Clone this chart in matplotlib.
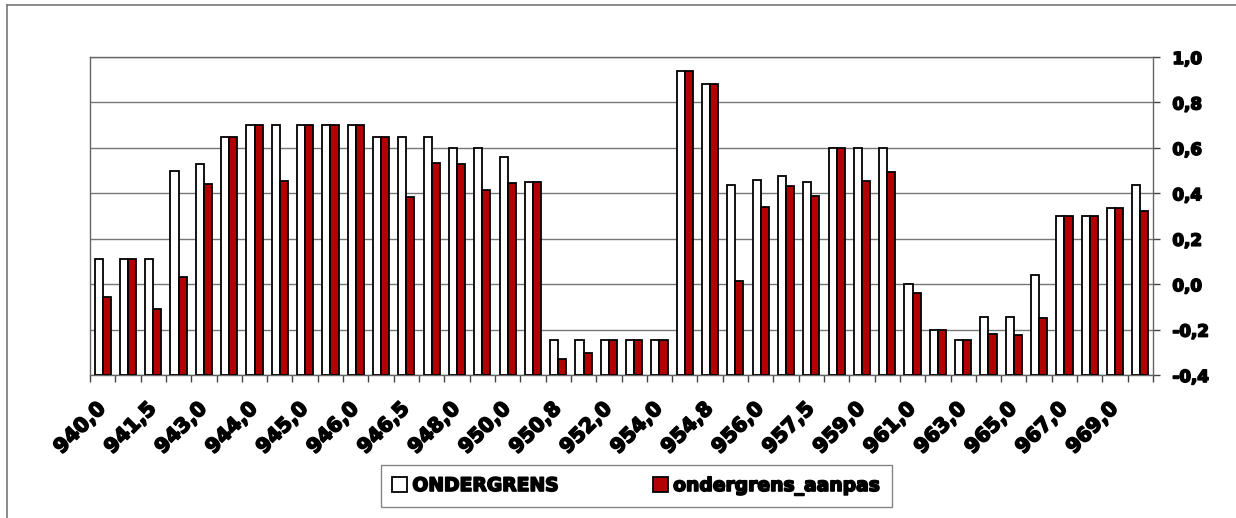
import matplotlib
matplotlib.use('Agg')
import matplotlib.pyplot as plt
import matplotlib.patheffects as pe
import matplotlib.transforms as mtransforms
import numpy as np
from matplotlib.lines import Line2D

# labelled categories (every other bar group carries a label)
tick_labels = ['940,0', '941,5', '943,0', '944,0', '945,0', '946,0', '946,5',
               '948,0', '950,0', '950,8', '952,0', '954,0', '954,8', '956,0',
               '957,5', '959,0', '961,0', '963,0', '965,0', '967,0', '969,0']

ondergrens = [0.11, 0.11, 0.11, 0.50, 0.53, 0.65, 0.70, 0.70, 0.70, 0.70,
              0.70, 0.65, 0.65, 0.65, 0.60, 0.60, 0.56, 0.45, -0.245, -0.245,
              -0.245, -0.245, -0.245, 0.94, 0.88, 0.435, 0.46, 0.475, 0.45, 0.60,
              0.60, 0.60, 0.0, -0.20, -0.245, -0.145, -0.145, 0.04, 0.30, 0.30,
              0.335, 0.435]

ondergrens_aanpas = [-0.055, 0.11, -0.11, 0.03, 0.44, 0.65, 0.70, 0.455, 0.70, 0.70,
                     0.70, 0.65, 0.385, 0.535, 0.53, 0.415, 0.445, 0.45, -0.33, -0.305,
                     -0.245, -0.245, -0.245, 0.94, 0.88, 0.015, 0.34, 0.43, 0.39, 0.60,
                     0.455, 0.495, -0.04, -0.20, -0.245, -0.22, -0.225, -0.15, 0.30, 0.30,
                     0.335, 0.32]

font = 'DejaVu Sans'
heavy = [pe.withStroke(linewidth=1.2, foreground='black')]
W, H = 1236, 518
fig = plt.figure(figsize=(W/100, H/100), dpi=100)
ax = fig.add_axes([90/W, 1-375/H, (1153-90)/W, (375-57)/H])

ymin, ymax = -0.4, 1.0
x = np.arange(len(ondergrens))
bw = 0.32
# bars grow from the bottom of the value axis, as in the original chart
ax.bar(x - bw/2, np.array(ondergrens) - ymin, bw, bottom=ymin, color='white',
       edgecolor='black', linewidth=1.3, label='ONDERGRENS', zorder=3)
ax.bar(x + bw/2, np.array(ondergrens_aanpas) - ymin, bw, bottom=ymin, color='#B30000',
       edgecolor='black', linewidth=1.3, label='ondergrens_aanpas', zorder=3)

ax.set_xlim(-0.5, len(x) - 0.5)
ax.set_ylim(ymin, ymax)

yt = np.arange(-0.4, 1.01, 0.2)
ax.set_yticks(yt)
ax.set_yticklabels([('%.1f' % v).replace('.', ',').replace('-0,0', '0,0') for v in yt],
                   fontfamily=font, fontweight='bold', fontsize=12)
ax.yaxis.tick_right()
ax.tick_params(axis='y', direction='out', length=5, width=1, color='#444', pad=9)
ax.grid(axis='y', color='#777', linewidth=1, zorder=0)

ax.set_xticks(x[::2])
ax.set_xticklabels(tick_labels, rotation=45, ha='right', va='top', rotation_mode='anchor',
                   fontfamily=font, fontweight='bold', fontsize=14.5)
ax.set_xticks(np.arange(-0.5, len(x), 1), minor=True)
ax.tick_params(axis='x', which='major', length=0, pad=16)
ax.tick_params(axis='x', which='minor', direction='out', length=5, width=1, color='#444')
shift = mtransforms.ScaledTranslation(-7/100, -2/100, fig.dpi_scale_trans)
for t in ax.get_xticklabels():
    t.set_transform(t.get_transform() + shift)
for t in ax.get_xticklabels() + ax.get_yticklabels():
    t.set_path_effects(heavy)

for s in ax.spines.values():
    s.set_color('#666')
    s.set_linewidth(1)

# outer chart border (top and left only visible)
fig.add_artist(Line2D([7/W, 1], [1-5/H, 1-5/H], color='#777', linewidth=1.2))
fig.add_artist(Line2D([7/W, 7/W], [0, 1-5/H], color='#777', linewidth=1.2))

leg = fig.legend(loc='center', bbox_to_anchor=(636/W, 1-486/H), ncol=2, frameon=True,
                 fancybox=False, edgecolor='#666', handlelength=0.8, handleheight=0.8,
                 columnspacing=5, borderpad=0.6, handletextpad=0.3,
                 prop={'family': font, 'weight': 'bold', 'size': 13.5})
leg.get_frame().set_linewidth(1)
for t in leg.get_texts():
    t.set_path_effects(heavy)

fig.savefig('out.png', dpi=100, facecolor='white')
